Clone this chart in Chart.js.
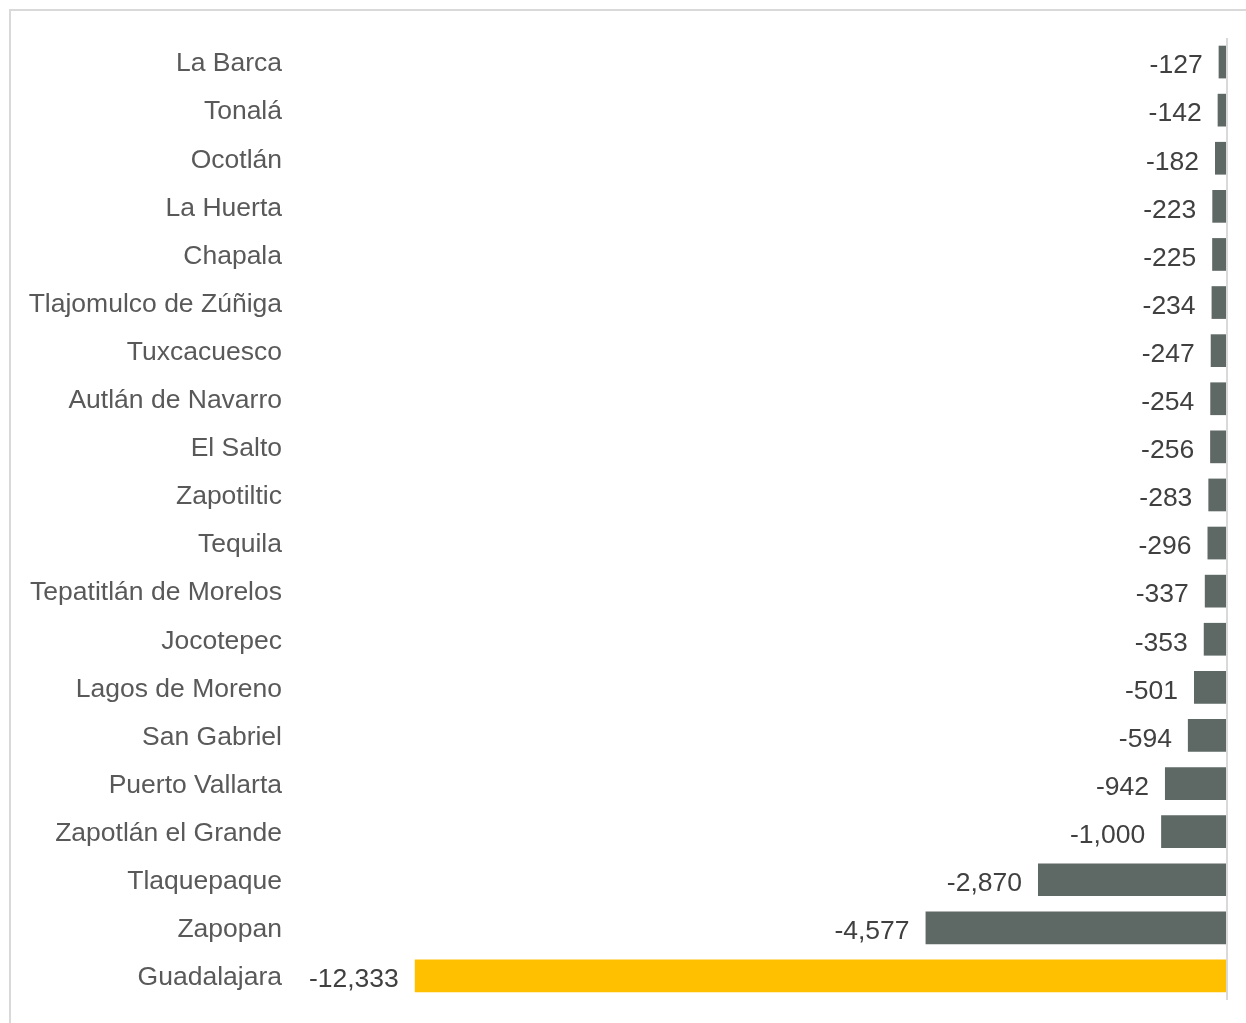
<!DOCTYPE html>
<html>
<head>
<meta charset="utf-8">
<script src="https://cdn.jsdelivr.net/npm/chart.js@4"></script>
<style>
  html, body { margin: 0; padding: 0; background: #fff; width: 1246px; height: 1023px; overflow: hidden; }
  #frame { position: absolute; left: 9px; top: 9px; width: 1300px; height: 1100px; border-left: 2px solid #d9d9d9; border-top: 2px solid #d9d9d9; }
  #wrap { position: absolute; left: 0; top: 0; width: 1246px; height: 1023px; }
</style>
</head>
<body>
<div id="frame"></div>
<div id="wrap"><canvas id="c" width="1246" height="1023" style="width:1246px;height:1023px"></canvas></div>
<script>
const categories = ["La Barca","Tonalá","Ocotlán","La Huerta","Chapala","Tlajomulco de Zúñiga","Tuxcacuesco","Autlán de Navarro","El Salto","Zapotiltic","Tequila","Tepatitlán de Morelos","Jocotepec","Lagos de Moreno","San Gabriel","Puerto Vallarta","Zapotlán el Grande","Tlaquepaque","Zapopan","Guadalajara"];
const values = [-127,-142,-182,-223,-225,-234,-247,-254,-256,-283,-296,-337,-353,-501,-594,-942,-1000,-2870,-4577,-12333];
const highlight = "Guadalajara";

const FONT = "'Liberation Sans', Arial, sans-serif";

const valueLabels = {
  id: 'valueLabels',
  afterDatasetsDraw(chart) {
    const ctx = chart.ctx;
    const meta = chart.getDatasetMeta(0);
    ctx.save();
    ctx.font = "26.5px " + FONT;
    ctx.fillStyle = "#404040";
    ctx.textAlign = "right";
    ctx.textBaseline = "middle";
    meta.data.forEach((bar, i) => {
      const v = values[i];
      const left = Math.min(bar.x, bar.base);
      ctx.fillText(v.toLocaleString('en-US'), left - 16, bar.y + 4);
    });
    ctx.restore();
  }
};

new Chart(document.getElementById('c'), {
  type: 'bar',
  data: {
    labels: categories,
    datasets: [{
      data: values,
      backgroundColor: categories.map(c => c === highlight ? '#FFC000' : '#5E6865'),
      borderWidth: 0,
      barPercentage: 0.68,
      categoryPercentage: 1.0
    }]
  },
  options: {
    indexAxis: 'y',
    responsive: false,
    animation: false,
    devicePixelRatio: 1,
    layout: { padding: { top: 38, bottom: 23, right: 19, left: 0 } },
    plugins: { legend: { display: false }, tooltip: { enabled: false } },
    scales: {
      x: {
        min: -14000, max: 0,
        ticks: { display: false, stepSize: 2000 },
        border: { display: false },
        grid: {
          drawTicks: false,
          lineWidth: 2,
          color: (ctx) => (ctx.tick && ctx.tick.value === 0) ? '#d9d9d9' : 'rgba(0,0,0,0)'
        },
        afterFit(scale) { scale.height = 0; scale.paddingLeft = 0; scale.paddingRight = 0; }
      },
      y: {
        border: { display: false },
        grid: { display: false, drawTicks: false },
        ticks: {
          color: '#595959',
          font: { family: FONT, size: 26.5 },
          padding: 23,
          labelOffset: 2,
          autoSkip: false
        },
        afterFit(scale) { scale.width = 305; scale.paddingTop = 0; scale.paddingBottom = 0; }
      }
    }
  },
  plugins: [valueLabels]
});
</script>
</body>
</html>
